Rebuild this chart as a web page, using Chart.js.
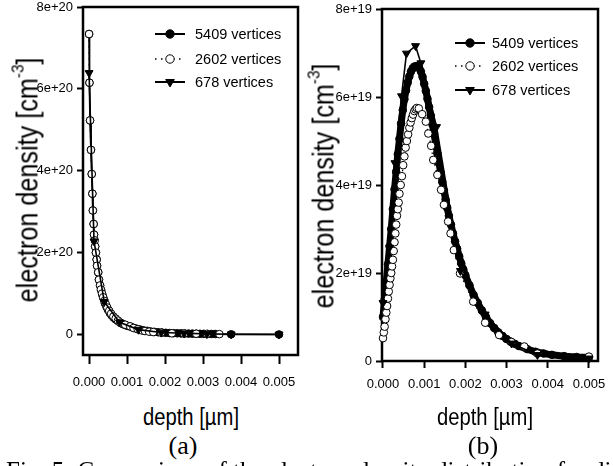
<!DOCTYPE html>
<html>
<head>
<meta charset="utf-8">
<script src="https://cdn.jsdelivr.net/npm/chart.js@4.4.1/dist/chart.umd.min.js"></script>
<style>
html, body { margin: 0; padding: 0; background: #fff; }
#fig { position: relative; width: 613px; height: 466px; overflow: hidden; background: #fff; color: #000;
       font-family: 'Liberation Sans', Arial, sans-serif; }
canvas { position: absolute; top: 0; }
.ytitle { position: absolute; white-space: nowrap; font-size: 29px; line-height: 1;
          transform: translate(-50%, -50%) rotate(-90deg) scaleX(0.87); }
.ytitle sup { font-size: 0.6em; vertical-align: 0.8em; line-height: 0; }
.xtitle { position: absolute; white-space: nowrap; font-size: 23px; line-height: 1;
          transform: translate(-50%, -50%) scaleX(0.88); }
.tag { position: absolute; font-family: 'Liberation Serif', 'Times New Roman', serif; font-size: 26px;
       line-height: 1; transform: translate(-50%, -50%); }
.caption { position: absolute; left: 6px; top: 458px; white-space: nowrap; line-height: 1;
           font-family: 'Liberation Serif', 'Times New Roman', serif; font-size: 25px; }
</style>
</head>
<body>
<div id="fig">
  <canvas id="chartA" width="310" height="400" style="left:0"></canvas>
  <canvas id="chartB" width="313" height="400" style="left:300px"></canvas>
  <div class="ytitle" style="left:28px;top:180px">electron density [cm<sup>-3</sup>]</div>
  <div class="ytitle" style="left:324px;top:186px">electron density [cm<sup>-3</sup>]</div>
  <div class="xtitle" style="left:191px;top:417px">depth [µm]</div>
  <div class="xtitle" style="left:485px;top:417px">depth [µm]</div>
  <div class="tag" style="left:183px;top:446px">(a)</div>
  <div class="tag" style="left:483px;top:446px">(b)</div>
  <div class="caption">Fig. 5: Comparison of the electron density distribution for different</div>
</div>
<script>
/* ---- data: depth in µm, density in units of the axis exponent (cm^-3) ---- */
const seriesNames = ['5409 vertices', '2602 vertices', '678 vertices'];
const xTicks = [0, 0.001, 0.002, 0.003, 0.004, 0.005];
const yTicksA = [0, 2, 4, 6, 8];   // ×1e20
const yTicksB = [0, 2, 4, 6, 8];   // ×1e19

// (a)
const depthA5409 = [0, 0.00001, 0.000026, 0.00005, 0.00007, 0.000087, 0.0001, 0.00012, 0.00013, 0.00016,
  0.00018, 0.0002, 0.00021, 0.00024, 0.00026, 0.00029, 0.00032, 0.00035, 0.00038, 0.00042,
  0.00046, 0.0005, 0.00055, 0.0006, 0.00065, 0.0007, 0.00076, 0.00082, 0.00088, 0.00095,
  0.00102, 0.0011, 0.00118, 0.00126, 0.00135, 0.00144, 0.00153, 0.00162, 0.00172, 0.00182,
  0.00192, 0.00202, 0.00212, 0.00222, 0.00232, 0.00242, 0.00252, 0.00262, 0.00272, 0.00282,
  0.00292, 0.00302, 0.00312, 0.00322, 0.00332, 0.00374, 0.005];
const densA5409 = [7.34, 6.15, 5.23, 4.51, 3.92, 3.44, 3.03, 2.70, 2.44, 2.15,
  2.00, 1.83, 1.68, 1.52, 1.34, 1.20, 1.08, 0.97, 0.88, 0.76,
  0.67, 0.60, 0.52, 0.46, 0.41, 0.37, 0.33, 0.29, 0.26, 0.23,
  0.21, 0.19, 0.16, 0.14, 0.12, 0.10, 0.09, 0.075, 0.065, 0.055,
  0.048, 0.042, 0.037, 0.033, 0.030, 0.027, 0.025, 0.023, 0.021, 0.020,
  0.018, 0.017, 0.015, 0.014, 0.013, 0.005, 0.002];
const depthA2602 = [0, 0.00001, 0.000026, 0.00005, 0.00007, 0.000087, 0.0001, 0.00012, 0.00013, 0.00015,
  0.00016, 0.00018, 0.0002, 0.00021, 0.00024, 0.00026, 0.00029, 0.00031, 0.00034, 0.00037,
  0.0004, 0.00044, 0.00048, 0.00053, 0.00058, 0.00064, 0.0007, 0.00076, 0.00082, 0.00095,
  0.00108, 0.00117, 0.00128, 0.00139, 0.00147, 0.00158, 0.00169, 0.0019, 0.00218, 0.0025,
  0.00282, 0.0031, 0.00343];
const densA2602 = [7.34, 6.15, 5.23, 4.51, 3.92, 3.44, 3.03, 2.70, 2.44, 2.30,
  2.15, 2.00, 1.83, 1.68, 1.52, 1.34, 1.20, 1.10, 1.00, 0.91,
  0.82, 0.74, 0.66, 0.58, 0.51, 0.44, 0.39, 0.34, 0.29, 0.24,
  0.20, 0.16, 0.13, 0.10, 0.085, 0.07, 0.06, 0.045, 0.03, 0.025,
  0.02, 0.015, 0.01];
const depthA678 = [0, 0.00013, 0.0004, 0.0008, 0.0013, 0.0019, 0.0025, 0.0031, 0.00374, 0.005];
const densA678 = [6.39, 2.28, 0.80, 0.30, 0.12, 0.05, 0.03, 0.015, 0.006, 0.002];

// (b)
const depthB5409 = [0, 0.00004, 0.00008, 0.00012, 0.00016, 0.0002, 0.00024, 0.00028, 0.00032, 0.00036,
  0.0004, 0.00044, 0.00048, 0.00052, 0.00056, 0.0006, 0.00064, 0.00068, 0.00072, 0.00076,
  0.0008, 0.00084, 0.00088, 0.00092, 0.00096, 0.001, 0.00104, 0.00108, 0.00112, 0.00116,
  0.0012, 0.00124, 0.00128, 0.00132, 0.00136, 0.0014, 0.00144, 0.00148, 0.00152, 0.00156,
  0.0016, 0.00165, 0.0017, 0.00175, 0.0018, 0.00185, 0.0019, 0.00195, 0.002, 0.0021,
  0.0022, 0.0023, 0.0024, 0.0025, 0.0026, 0.0027, 0.0028, 0.0029, 0.003, 0.0031,
  0.0032, 0.0033, 0.0035, 0.0037, 0.0039, 0.0041, 0.0044, 0.0047, 0.005];
const densB5409 = [1.0, 1.4, 1.8, 2.2, 2.6, 3.0, 3.45, 3.9, 4.3, 4.7,
  5.05, 5.4, 5.7, 5.95, 6.15, 6.33, 6.47, 6.58, 6.65, 6.69,
  6.70, 6.69, 6.66, 6.58, 6.46, 6.30, 6.14, 5.96, 5.77, 5.58,
  5.38, 5.16, 4.94, 4.72, 4.50, 4.28, 4.07, 3.87, 3.67, 3.48,
  3.30, 3.10, 2.90, 2.72, 2.55, 2.38, 2.22, 2.08, 1.95, 1.72,
  1.50, 1.32, 1.15, 1.00, 0.86, 0.75, 0.65, 0.57, 0.50, 0.44,
  0.39, 0.34, 0.27, 0.21, 0.17, 0.14, 0.11, 0.09, 0.08];
const depthB2602 = [0, 0.00002, 0.00004, 0.00006, 0.00008, 0.0001, 0.00012, 0.00014, 0.00016, 0.00018,
  0.0002, 0.00022, 0.00024, 0.00026, 0.00028, 0.0003, 0.00032, 0.00034, 0.00036, 0.00038,
  0.0004, 0.00043, 0.00046, 0.00049, 0.00052, 0.00055, 0.00058, 0.00061, 0.00064, 0.00067,
  0.0007, 0.00073, 0.00076, 0.00079, 0.00082, 0.00087, 0.00095, 0.00104, 0.0011, 0.00117,
  0.00122, 0.00132, 0.00141, 0.00148, 0.00158, 0.00164, 0.00172, 0.00187, 0.00219, 0.00248,
  0.00282, 0.00312, 0.00343, 0.00375, 0.005];
const densB2602 = [0.52, 0.65, 0.78, 0.95, 1.10, 1.25, 1.42, 1.58, 1.73, 1.88,
  2.00, 2.15, 2.30, 2.50, 2.70, 2.90, 3.10, 3.30, 3.45, 3.60,
  3.80, 4.00, 4.20, 4.45, 4.65, 4.85, 5.00, 5.15, 5.30, 5.42,
  5.52, 5.60, 5.68, 5.72, 5.75, 5.74, 5.61, 5.44, 5.17, 4.89,
  4.57, 4.23, 3.89, 3.55, 3.17, 2.90, 2.52, 1.99, 1.35, 0.87,
  0.59, 0.43, 0.33, 0.17, 0.10];
const depthB678 = [0, 0.00016, 0.00029, 0.00045, 0.00057, 0.00079, 0.00092, 0.0013, 0.00188, 0.00248, 0.00312, 0.00375, 0.005];
const densB678 = [1.32, 2.58, 4.50, 6.02, 6.99, 7.16, 6.77, 5.32, 2.05, 1.06, 0.40, 0.14, 0.06];

/* ---- styling ---- */
const FONT = "'Liberation Sans', Arial, sans-serif";
const pts = (xs, ys) => xs.map((x, i) => ({ x: x, y: ys[i] }));

const STYLES = [
  { borderWidth: 1.8, pointStyle: 'circle', pointRadius: 3.8, pointBackgroundColor: '#000', pointBorderWidth: 1, order: 3 },
  { borderWidth: 1.3, borderDash: [1.5, 4.5], pointStyle: 'circle', pointRadius: 3.8, pointBackgroundColor: '#fff', pointBorderWidth: 1, order: 2 },
  { borderWidth: 1.6, pointStyle: 'triangle', pointRotation: 180, pointRadius: 4.6, pointBackgroundColor: '#000', pointBorderWidth: 1, order: 1 }
];
const LEGEND_LINE = [2, 1.6, 2];

function makeSets(list, bandWidth) {
  return list.map((d, i) => {
    const ds = Object.assign({
      label: seriesNames[i], data: pts(d[0], d[1]), showLine: true, tension: 0,
      borderColor: '#000', pointBorderColor: '#000', pointHoverRadius: 0, clip: false
    }, STYLES[i]);
    if (i === 0 && bandWidth) ds.borderWidth = bandWidth;
    return ds;
  });
}

/* box round the plot area */
const frame = {
  id: 'frame',
  beforeDatasetsDraw(chart) {
    const { ctx, chartArea: a } = chart;
    ctx.save();
    ctx.strokeStyle = '#000';
    ctx.lineWidth = 2.5;
    ctx.strokeRect(a.left, a.top, a.right - a.left, a.bottom - a.top);
    ctx.restore();
  }
};

/* legend drawn as line + marker + label, like the original */
const boxLegend = {
  id: 'boxLegend',
  afterDatasetsDraw(chart, args, o) {
    const ctx = chart.ctx;
    chart.data.datasets.forEach((ds, i) => {
      const y = o.rows[i], x0 = o.x, x1 = o.x + 30;
      ctx.save();
      ctx.strokeStyle = '#000';
      ctx.lineWidth = LEGEND_LINE[i];
      ctx.setLineDash(ds.borderDash || []);
      ctx.beginPath(); ctx.moveTo(x0, y); ctx.lineTo(x1, y); ctx.stroke();
      ctx.setLineDash([]);
      ctx.fillStyle = ds.pointBackgroundColor;
      ctx.lineWidth = 1;
      Chart.helpers.drawPoint(ctx, { pointStyle: ds.pointStyle, radius: ds.pointRadius + 0.4,
        rotation: ds.pointRotation || 0, borderWidth: 1 }, x0 + 15, y);
      ctx.fillStyle = '#000';
      ctx.font = o.font;
      ctx.textBaseline = 'middle';
      ctx.fillText(ds.label, x1 + o.gap, y + 1);
      ctx.restore();
    });
  }
};

function panel(id, sets, yTicks, expo, lay) {
  return new Chart(document.getElementById(id), {
    type: 'scatter',
    data: { datasets: sets },
    options: {
      responsive: false,
      animation: false,
      layout: { padding: { left: 0, top: lay.top, right: lay.right, bottom: 0 } },
      plugins: {
        legend: { display: false },
        tooltip: { enabled: false },
        boxLegend: { x: lay.legX, rows: lay.legRows, gap: lay.legGap, font: '14.5px ' + FONT }
      },
      scales: {
        x: {
          type: 'linear', min: lay.xMin, max: lay.xMax,
          afterBuildTicks: s => { s.ticks = xTicks.map(v => ({ value: v })); },
          afterFit: s => { s.height = lay.xH; s.paddingLeft = 0; s.paddingRight = 0; },
          border: { display: false },
          grid: { drawOnChartArea: false, drawTicks: true, tickLength: lay.xTick, tickWidth: 2, tickColor: '#000' },
          ticks: { color: '#000', padding: lay.xPad, autoSkip: false, maxRotation: 0,
                   font: { size: 13, family: FONT }, callback: v => v.toFixed(3) }
        },
        y: {
          type: 'linear', min: lay.yMin, max: 8,
          afterBuildTicks: s => { s.ticks = yTicks.map(v => ({ value: v })); },
          afterFit: s => { s.width = lay.yW; s.paddingTop = 0; s.paddingBottom = 0; },
          border: { display: false },
          grid: { drawOnChartArea: false, drawTicks: true, tickLength: 6, tickWidth: 2, tickColor: '#000' },
          ticks: { color: '#000', padding: 4, autoSkip: false,
                   font: { size: 13, family: FONT }, callback: v => (v === 0 ? '0' : v + 'e+' + expo) }
        }
      }
    },
    plugins: [frame, boxLegend]
  });
}

panel('chartA', makeSets([[depthA5409, densA5409], [depthA2602, densA2602], [depthA678, densA678]], 0), yTicksA, 20,
  { top: 7, right: 12, yW: 83, xH: 45, xTick: 9, xPad: 11, xMin: -0.00016, xMax: 0.0055, yMin: -0.5,
    legX: 155, legRows: [34, 59, 82], legGap: 10 });
panel('chartB', makeSets([[depthB5409, densB5409], [depthB2602, densB2602], [depthB678, densB678]], 7), yTicksB, 19,
  { top: 9, right: 15, yW: 82, xH: 39, xTick: 7, xPad: 9, xMin: -0.000024, xMax: 0.00522, yMin: 0,
    legX: 155, legRows: [43, 66, 90], legGap: 7 });
</script>
</body>
</html>
